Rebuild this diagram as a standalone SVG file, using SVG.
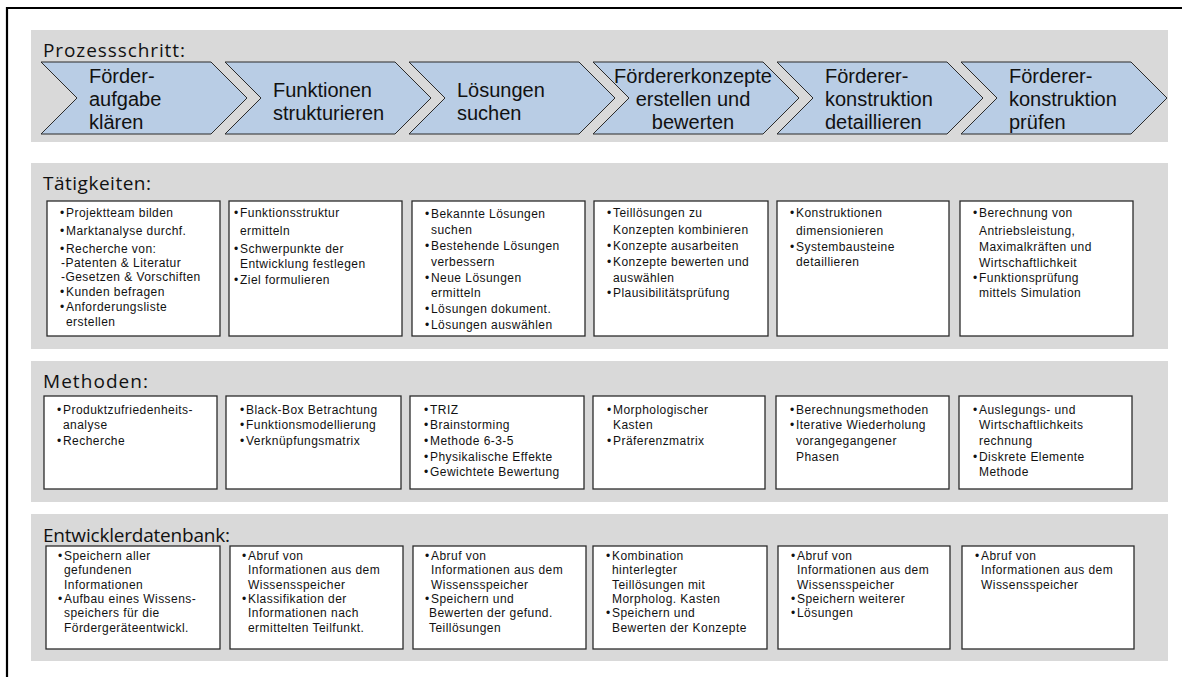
<svg xmlns="http://www.w3.org/2000/svg" width="1182" height="677" viewBox="0 0 1182 677">
<style>
.band{fill:#D9D9D9}
.head{font-family:"Open Sans","Noto Sans",sans-serif;font-size:19px;fill:#111}
.chev{fill:#B9CDE5;stroke:#2b2b2b;stroke-width:1}
.ct{font-family:"Liberation Sans",Arial,sans-serif;font-size:20px;fill:#111}
.box{fill:#fff;stroke:#2b2b2b;stroke-width:1.3}
.t{font-family:"Liberation Sans",Arial,sans-serif;font-size:12px;letter-spacing:0.45px;fill:#111}
.frame{fill:none;stroke:#000;stroke-width:2.2}
</style>
<rect width="1182" height="677" fill="#fff"/>
<path class="frame" d="M7,677 V8 H1182"/>
<g id="bands">
<rect class="band" x="31" y="30" width="1137" height="112"/>
<rect class="band" x="31" y="163" width="1137" height="186"/>
<rect class="band" x="31" y="361" width="1137" height="141"/>
<rect class="band" x="31" y="514" width="1137" height="147"/>
<text class="head" x="43" y="57" textLength="142" lengthAdjust="spacing">Prozessschritt:</text>
<text class="head" x="43" y="190" textLength="108" lengthAdjust="spacing">Tätigkeiten:</text>
<text class="head" x="43" y="388" textLength="105" lengthAdjust="spacing">Methoden:</text>
<text class="head" x="43" y="542" textLength="187" lengthAdjust="spacing">Entwicklerdatenbank:</text>
</g>
<g id="connectors"/>
<g id="step1"><polygon class="chev" points="41,62 211,62 247,98 211,134 41,134 77,98"/>
<text class="ct" x="89" y="83">Förder-</text><text class="ct" x="89" y="106">aufgabe</text><text class="ct" x="89" y="129">klären</text></g>
<g id="step2"><polygon class="chev" points="225,62 395,62 431,98 395,134 225,134 261,98"/>
<text class="ct" x="273" y="97">Funktionen</text><text class="ct" x="273" y="120">strukturieren</text></g>
<g id="step3"><polygon class="chev" points="409,62 579,62 615,98 579,134 409,134 445,98"/>
<text class="ct" x="457" y="97">Lösungen</text><text class="ct" x="457" y="120">suchen</text></g>
<g id="step4"><polygon class="chev" points="593,62 763,62 799,98 763,134 593,134 629,98"/>
<text class="ct" x="693" y="83" text-anchor="middle">Fördererkonzepte</text><text class="ct" x="693" y="106" text-anchor="middle">erstellen und</text><text class="ct" x="693" y="129" text-anchor="middle">bewerten</text></g>
<g id="step5"><polygon class="chev" points="777,62 947,62 983,98 947,134 777,134 813,98"/>
<text class="ct" x="825" y="83">Förderer-</text><text class="ct" x="825" y="106">konstruktion</text><text class="ct" x="825" y="129">detaillieren</text></g>
<g id="step6"><polygon class="chev" points="961,62 1131,62 1167,98 1131,134 961,134 997,98"/>
<text class="ct" x="1009" y="83">Förderer-</text><text class="ct" x="1009" y="106">konstruktion</text><text class="ct" x="1009" y="129">prüfen</text></g>

<g id="taet1"><rect class="box" x="47" y="201" width="173" height="135"/>
<text class="t" x="60" y="217">•</text><text class="t" x="66" y="217">Projektteam bilden</text>
<text class="t" x="60" y="235">•</text><text class="t" x="66" y="235">Marktanalyse durchf.</text>
<text class="t" x="60" y="253">•</text><text class="t" x="66" y="253">Recherche von:</text>
<text class="t" x="61" y="267">-Patenten &amp; Literatur</text>
<text class="t" x="61" y="281">-Gesetzen &amp; Vorschiften</text>
<text class="t" x="60" y="296">•</text><text class="t" x="66" y="296">Kunden befragen</text>
<text class="t" x="60" y="311">•</text><text class="t" x="66" y="311">Anforderungsliste</text>
<text class="t" x="66" y="326">erstellen</text></g>
<g id="taet2"><rect class="box" x="229" y="201" width="173" height="135"/>
<text class="t" x="234" y="217">•</text><text class="t" x="240" y="217">Funktionsstruktur</text>
<text class="t" x="240" y="235">ermitteln</text>
<text class="t" x="234" y="253">•</text><text class="t" x="240" y="253">Schwerpunkte der</text>
<text class="t" x="240" y="268">Entwicklung festlegen</text>
<text class="t" x="234" y="284">•</text><text class="t" x="240" y="284">Ziel formulieren</text></g>
<g id="taet3"><rect class="box" x="412" y="201" width="173" height="135"/>
<text class="t" x="425" y="218">•</text><text class="t" x="431" y="218">Bekannte Lösungen</text>
<text class="t" x="431" y="234">suchen</text>
<text class="t" x="425" y="250">•</text><text class="t" x="431" y="250">Bestehende Lösungen</text>
<text class="t" x="431" y="266">verbessern</text>
<text class="t" x="425" y="282">•</text><text class="t" x="431" y="282">Neue Lösungen</text>
<text class="t" x="431" y="297">ermitteln</text>
<text class="t" x="425" y="313">•</text><text class="t" x="431" y="313">Lösungen dokument.</text>
<text class="t" x="425" y="329">•</text><text class="t" x="431" y="329">Lösungen auswählen</text></g>
<g id="taet4"><rect class="box" x="594" y="201" width="174" height="135"/>
<text class="t" x="607" y="217">•</text><text class="t" x="613" y="217">Teillösungen zu</text>
<text class="t" x="613" y="234">Konzepten kombinieren</text>
<text class="t" x="607" y="250">•</text><text class="t" x="613" y="250">Konzepte ausarbeiten</text>
<text class="t" x="607" y="266">•</text><text class="t" x="613" y="266">Konzepte bewerten und</text>
<text class="t" x="613" y="282">auswählen</text>
<text class="t" x="607" y="297">•</text><text class="t" x="613" y="297">Plausibilitätsprüfung</text></g>
<g id="taet5"><rect class="box" x="777" y="201" width="172" height="135"/>
<text class="t" x="790" y="217">•</text><text class="t" x="796" y="217">Konstruktionen</text>
<text class="t" x="796" y="235">dimensionieren</text>
<text class="t" x="790" y="251">•</text><text class="t" x="796" y="251">Systembausteine</text>
<text class="t" x="796" y="266">detaillieren</text></g>
<g id="taet6"><rect class="box" x="960" y="201" width="173" height="135"/>
<text class="t" x="973" y="217">•</text><text class="t" x="979" y="217">Berechnung von</text>
<text class="t" x="979" y="235">Antriebsleistung,</text>
<text class="t" x="979" y="251">Maximalkräften und</text>
<text class="t" x="979" y="267">Wirtschaftlichkeit</text>
<text class="t" x="973" y="282">•</text><text class="t" x="979" y="282">Funktionsprüfung</text>
<text class="t" x="979" y="297">mittels Simulation</text></g>

<g id="meth1"><rect class="box" x="44" y="396" width="173" height="93"/>
<text class="t" x="57" y="414">•</text><text class="t" x="63" y="414">Produktzufriedenheits-</text>
<text class="t" x="63" y="429">analyse</text>
<text class="t" x="57" y="445">•</text><text class="t" x="63" y="445">Recherche</text></g>
<g id="meth2"><rect class="box" x="226" y="396" width="175" height="93"/>
<text class="t" x="240" y="414">•</text><text class="t" x="246" y="414">Black-Box Betrachtung</text>
<text class="t" x="240" y="429">•</text><text class="t" x="246" y="429">Funktionsmodellierung</text>
<text class="t" x="240" y="445">•</text><text class="t" x="246" y="445">Verknüpfungsmatrix</text></g>
<g id="meth3"><rect class="box" x="410" y="396" width="174" height="93"/>
<text class="t" x="424" y="414">•</text><text class="t" x="430" y="414">TRIZ</text>
<text class="t" x="424" y="429">•</text><text class="t" x="430" y="429">Brainstorming</text>
<text class="t" x="424" y="445">•</text><text class="t" x="430" y="445">Methode 6-3-5</text>
<text class="t" x="424" y="461">•</text><text class="t" x="430" y="461">Physikalische Effekte</text>
<text class="t" x="424" y="476">•</text><text class="t" x="430" y="476">Gewichtete Bewertung</text></g>
<g id="meth4"><rect class="box" x="593" y="396" width="172" height="93"/>
<text class="t" x="607" y="414">•</text><text class="t" x="613" y="414">Morphologischer</text>
<text class="t" x="613" y="429">Kasten</text>
<text class="t" x="607" y="445">•</text><text class="t" x="613" y="445">Präferenzmatrix</text></g>
<g id="meth5"><rect class="box" x="776" y="396" width="173" height="93"/>
<text class="t" x="790" y="414">•</text><text class="t" x="796" y="414">Berechnungsmethoden</text>
<text class="t" x="790" y="429">•</text><text class="t" x="796" y="429">Iterative Wiederholung</text>
<text class="t" x="796" y="445">vorangegangener</text>
<text class="t" x="796" y="461">Phasen</text></g>
<g id="meth6"><rect class="box" x="959" y="396" width="173" height="93"/>
<text class="t" x="973" y="414">•</text><text class="t" x="979" y="414">Auslegungs- und</text>
<text class="t" x="979" y="429">Wirtschaftlichkeits</text>
<text class="t" x="979" y="445">rechnung</text>
<text class="t" x="973" y="461">•</text><text class="t" x="979" y="461">Diskrete Elemente</text>
<text class="t" x="979" y="476">Methode</text></g>

<g id="db1"><rect class="box" x="46" y="546" width="174" height="103"/>
<text class="t" x="58" y="560">•</text><text class="t" x="64" y="560">Speichern aller</text>
<text class="t" x="64" y="574">gefundenen</text>
<text class="t" x="64" y="589">Informationen</text>
<text class="t" x="58" y="603">•</text><text class="t" x="64" y="603">Aufbau eines Wissens-</text>
<text class="t" x="64" y="617">speichers für die</text>
<text class="t" x="64" y="632">Fördergeräteentwickl.</text></g>
<g id="db2"><rect class="box" x="230" y="546" width="173" height="103"/>
<text class="t" x="242" y="560">•</text><text class="t" x="248" y="560">Abruf von</text>
<text class="t" x="248" y="574">Informationen aus dem</text>
<text class="t" x="248" y="589">Wissensspeicher</text>
<text class="t" x="242" y="603">•</text><text class="t" x="248" y="603">Klassifikation der</text>
<text class="t" x="248" y="617">Informationen nach</text>
<text class="t" x="248" y="632">ermittelten Teilfunkt.</text></g>
<g id="db3"><rect class="box" x="413" y="546" width="173" height="103"/>
<text class="t" x="425" y="560">•</text><text class="t" x="431" y="560">Abruf von</text>
<text class="t" x="431" y="574">Informationen aus dem</text>
<text class="t" x="431" y="589">Wissensspeicher</text>
<text class="t" x="425" y="603">•</text><text class="t" x="431" y="603">Speichern und</text>
<text class="t" x="429" y="617">Bewerten der gefund.</text>
<text class="t" x="429" y="632">Teillösungen</text></g>
<g id="db4"><rect class="box" x="593" y="546" width="174" height="103"/>
<text class="t" x="606" y="560">•</text><text class="t" x="612" y="560">Kombination</text>
<text class="t" x="612" y="574">hinterlegter</text>
<text class="t" x="612" y="589">Teillösungen mit</text>
<text class="t" x="612" y="603">Morpholog. Kasten</text>
<text class="t" x="606" y="617">•</text><text class="t" x="612" y="617">Speichern und</text>
<text class="t" x="612" y="632">Bewerten der Konzepte</text></g>
<g id="db5"><rect class="box" x="778" y="546" width="172" height="103"/>
<text class="t" x="791" y="560">•</text><text class="t" x="797" y="560">Abruf von</text>
<text class="t" x="797" y="574">Informationen aus dem</text>
<text class="t" x="797" y="589">Wissensspeicher</text>
<text class="t" x="791" y="603">•</text><text class="t" x="797" y="603">Speichern weiterer</text>
<text class="t" x="791" y="617">•</text><text class="t" x="797" y="617">Lösungen</text></g>
<g id="db6"><rect class="box" x="962" y="546" width="172" height="103"/>
<text class="t" x="975" y="560">•</text><text class="t" x="981" y="560">Abruf von</text>
<text class="t" x="981" y="574">Informationen aus dem</text>
<text class="t" x="981" y="589">Wissensspeicher</text></g>
</svg>
